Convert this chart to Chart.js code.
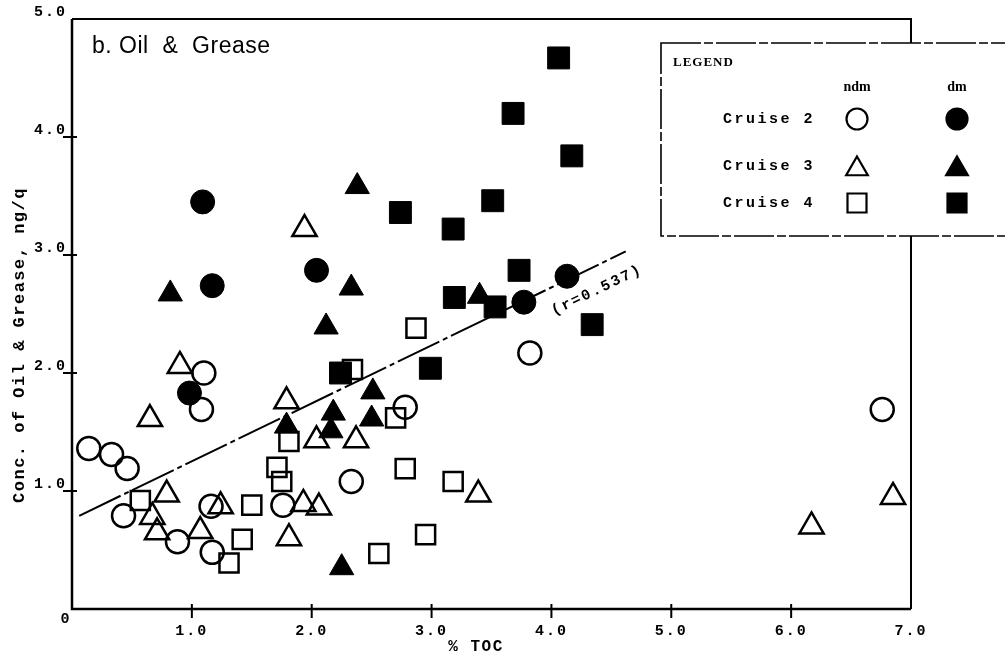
<!DOCTYPE html>
<html lang="en">
<head>
<meta charset="UTF-8">
<title>b. Oil &amp; Grease</title>
<script src="https://cdn.jsdelivr.net/npm/chart.js"></script>
<style>
  html, body { margin: 0; padding: 0; background: #fff; }
  #wrap { width: 1005px; height: 659px; position: relative; }
</style>
</head>
<body>
<div id="wrap"><canvas id="oilChart"></canvas></div>
<script>
// % TOC (x) against Oil & Grease (y)
const c2ndmX = [1.10, 1.08, 0.14, 0.33, 0.46, 0.43, 0.88, 1.16, 1.17, 1.76, 2.33, 2.78, 3.82, 6.76];
const c2ndmY = [2.00, 1.69, 1.36, 1.31, 1.19, 0.79, 0.57, 0.87, 0.48, 0.88, 1.08, 1.71, 2.17, 1.69];
const c2dmX = [1.09, 1.17, 2.04, 0.98, 3.77, 4.13];
const c2dmY = [3.45, 2.74, 2.87, 1.83, 2.60, 2.82];
const c3ndmX = [1.94, 0.90, 0.65, 0.79, 0.67, 0.71, 1.07, 1.24, 1.79, 2.04, 2.37, 1.93, 2.06, 1.81, 3.39, 6.17, 6.85];
const c3ndmY = [3.22, 2.06, 1.61, 0.97, 0.78, 0.65, 0.66, 0.87, 1.76, 1.43, 1.43, 0.89, 0.86, 0.60, 0.97, 0.70, 0.95];
const c3dmX = [0.82, 2.38, 2.33, 2.12, 3.40, 1.79, 2.18, 2.16, 2.51, 2.50, 2.25];
const c3dmY = [2.67, 3.58, 2.72, 2.39, 2.65, 1.55, 1.66, 1.51, 1.84, 1.61, 0.35];
const c4ndmX = [0.57, 1.31, 1.42, 1.50, 1.71, 1.75, 1.81, 2.34, 2.70, 2.78, 2.87, 3.18, 2.95, 2.56];
const c4ndmY = [0.92, 0.39, 0.59, 0.88, 1.20, 1.08, 1.42, 2.03, 1.62, 1.19, 2.38, 1.08, 0.63, 0.47];
const c4dmX = [4.06, 3.68, 4.17, 2.74, 3.51, 3.18, 3.73, 3.19, 3.53, 4.34, 2.99, 2.24];
const c4dmY = [4.67, 4.20, 3.84, 3.36, 3.46, 3.22, 2.87, 2.64, 2.56, 2.41, 2.04, 2.00];

// fitted line (r=0.537)
const fitX = [0.06, 4.62];
const fitY = [0.79, 3.03];

const xTicks = [1, 2, 3, 4, 5, 6, 7];
const yTicks = [1, 2, 3, 4, 5];

const cruises = ['Cruise 2', 'Cruise 3', 'Cruise 4'];

function pts(xs, ys) {
  return xs.map((x, i) => ({ x: x, y: ys[i] }));
}

function openSet(label, xs, ys, style, r) {
  return {
    label: label, data: pts(xs, ys),
    pointStyle: style, pointRadius: r,
    borderColor: '#000', backgroundColor: 'rgba(0,0,0,0)', borderWidth: 2.5
  };
}
function fillSet(label, xs, ys, style, r) {
  return {
    label: label, data: pts(xs, ys),
    pointStyle: style, pointRadius: r,
    borderColor: '#000', backgroundColor: '#000', borderWidth: 1
  };
}

const mono = '"Liberation Mono", "DejaVu Sans Mono", monospace';

function mark(ctx, style, filled, x, y, r) {
  ctx.beginPath();
  if (style === 'circle') {
    ctx.arc(x, y, r, 0, Math.PI * 2);
  } else if (style === 'triangle') {
    ctx.moveTo(x, y - r);
    ctx.lineTo(x + r * 0.866, y + r * 0.5);
    ctx.lineTo(x - r * 0.866, y + r * 0.5);
    ctx.closePath();
  } else {
    ctx.rect(x - r, y - r, r * 2, r * 2);
  }
  if (filled) ctx.fill();
  ctx.stroke();
}

const framePlugin = {
  id: 'frame',
  beforeDraw(chart) {
    // typewriter-like spacing for the tick labels
    chart.ctx.letterSpacing = '2px';
  },
  beforeDatasetsDraw(chart) {
    const { ctx, chartArea: a, scales: { x, y } } = chart;
    ctx.save();
    ctx.strokeStyle = '#000';
    ctx.lineWidth = 2.5;
    ctx.beginPath();
    ctx.moveTo(a.left, a.top);
    ctx.lineTo(a.left, a.bottom);
    ctx.lineTo(a.right, a.bottom);
    ctx.stroke();
    ctx.lineWidth = 2;
    ctx.beginPath();
    ctx.moveTo(a.left, a.top);
    ctx.lineTo(a.right, a.top);
    ctx.lineTo(a.right, a.bottom);
    ctx.stroke();
    // ticks crossing the axes
    ctx.beginPath();
    xTicks.forEach(v => {
      if (v >= 7) return;
      const px = x.getPixelForValue(v);
      ctx.moveTo(px, a.bottom - 5);
      ctx.lineTo(px, a.bottom + 9);
    });
    yTicks.forEach(v => {
      if (v >= 5) return;
      const py = y.getPixelForValue(v);
      ctx.moveTo(a.left - 9, py);
      ctx.lineTo(a.left + 5, py);
    });
    ctx.stroke();
    ctx.restore();
  },
  afterDraw(chart) {
    const { ctx, scales: { x, y } } = chart;
    ctx.save();
    ctx.fillStyle = '#000';

    // title inside the plot
    ctx.letterSpacing = '0.5px';
    ctx.font = '23px "Liberation Sans", Arial, sans-serif';
    ctx.textAlign = 'left';
    ctx.textBaseline = 'alphabetic';
    ctx.fillText('b. Oil  &  Grease', 92, 53);

    // origin label
    ctx.letterSpacing = '0px';
    ctx.font = 'bold 15px ' + mono;
    ctx.textAlign = 'center';
    ctx.textBaseline = 'middle';
    ctx.fillText('0', 65, 619);

    // axis titles
    ctx.letterSpacing = '1.5px';
    ctx.font = 'bold 16px ' + mono;
    ctx.fillText('% TOC', 476, 647);
    ctx.save();
    ctx.translate(20, 345);
    ctx.rotate(-Math.PI / 2);
    ctx.font = 'bold 17px ' + mono;
    ctx.fillText('Conc. of Oil & Grease, ng/q', 0, 0);
    ctx.restore();

    // r label along the fitted line
    const x0 = x.getPixelForValue(fitX[0]), y0 = y.getPixelForValue(fitY[0]);
    const x1 = x.getPixelForValue(fitX[1]), y1 = y.getPixelForValue(fitY[1]);
    const ang = Math.atan2(y1 - y0, x1 - x0);
    ctx.save();
    ctx.translate(x.getPixelForValue(4.38), y.getPixelForValue(2.70));
    ctx.rotate(ang);
    ctx.letterSpacing = '2px';
    ctx.font = 'bold 15px ' + mono;
    ctx.fillText('(r=0.537)', 0, 0);
    ctx.restore();

    // legend box
    const L = 661, T = 43, B = 236;
    ctx.fillStyle = '#fff';
    ctx.fillRect(L, T, 400, B - T);
    ctx.strokeStyle = '#000';
    ctx.lineWidth = 1.6;
    ctx.setLineDash([40, 3, 9, 3]);
    ctx.strokeRect(L, T, 400, B - T);
    ctx.setLineDash([]);

    ctx.fillStyle = '#000';
    ctx.textAlign = 'left';
    ctx.font = 'bold 13px "Liberation Serif", serif';
    ctx.letterSpacing = '1px';
    ctx.fillText('LEGEND', 673, 63);
    ctx.textAlign = 'center';
    ctx.letterSpacing = '0px';
    ctx.font = 'bold 14px "Liberation Serif", serif';
    ctx.fillText('ndm', 857, 87);
    ctx.fillText('dm', 957, 87);

    const rows = [119, 166, 203];
    const styles = [['circle', 10.5], ['triangle', 12.5], ['rect', 9.5]];
    ctx.textAlign = 'left';
    ctx.font = 'bold 15px ' + mono;
    ctx.letterSpacing = '2.5px';
    ctx.lineWidth = 2.2;
    rows.forEach((ry, i) => {
      ctx.fillText(cruises[i], 723, ry);
      const [st, r] = styles[i];
      const off = st === 'triangle' ? 3 : 0;
      mark(ctx, st, false, 857, ry + off, r);
      mark(ctx, st, true, 957, ry + off, r);
    });
    ctx.letterSpacing = '0px';

    // right axis segment above the legend
    ctx.lineWidth = 2;
    ctx.beginPath();
    ctx.moveTo(x.right, y.top);
    ctx.lineTo(x.right, T);
    ctx.stroke();
    ctx.restore();
  }
};

new Chart(document.getElementById('oilChart'), {
  type: 'scatter',
  data: {
    datasets: [
      {
        label: 'fit', data: pts(fitX, fitY), showLine: true,
        borderColor: '#000', borderWidth: 2, borderDash: [46, 4, 5, 4],
        pointRadius: 0, fill: false
      },
      openSet('Cruise 2 ndm', c2ndmX, c2ndmY, 'circle', 11.5),
      fillSet('Cruise 2 dm', c2dmX, c2dmY, 'circle', 12),
      openSet('Cruise 3 ndm', c3ndmX, c3ndmY, 'triangle', 14),
      fillSet('Cruise 3 dm', c3dmX, c3dmY, 'triangle', 14),
      openSet('Cruise 4 ndm', c4ndmX, c4ndmY, 'rect', 13.5),
      fillSet('Cruise 4 dm', c4dmX, c4dmY, 'rect', 15.5)
    ]
  },
  options: {
    responsive: true,
    maintainAspectRatio: false,
    animation: false,
    layout: { padding: { top: 19, right: 94, left: 0, bottom: 0 } },
    plugins: { legend: { display: false }, tooltip: { enabled: false } },
    scales: {
      x: {
        type: 'linear', min: 0, max: 7,
        grid: { display: false },
        border: { display: false },
        afterFit(s) { s.height = 50; },
        afterBuildTicks(s) { s.ticks = xTicks.map(v => ({ value: v })); },
        ticks: {
          padding: 5, maxRotation: 0, autoSkip: false, color: '#000',
          font: { family: mono, size: 15, weight: 'bold' },
          callback: v => v.toFixed(1)
        }
      },
      y: {
        type: 'linear', min: 0, max: 5,
        grid: { display: false },
        border: { display: false },
        afterFit(s) { s.width = 72; },
        afterBuildTicks(s) { s.ticks = yTicks.map(v => ({ value: v })); },
        ticks: {
          padding: -3, labelOffset: -7, color: '#000',
          font: { family: mono, size: 15, weight: 'bold' },
          callback: v => v.toFixed(1)
        }
      }
    }
  },
  plugins: [framePlugin]
});
</script>
</body>
</html>
